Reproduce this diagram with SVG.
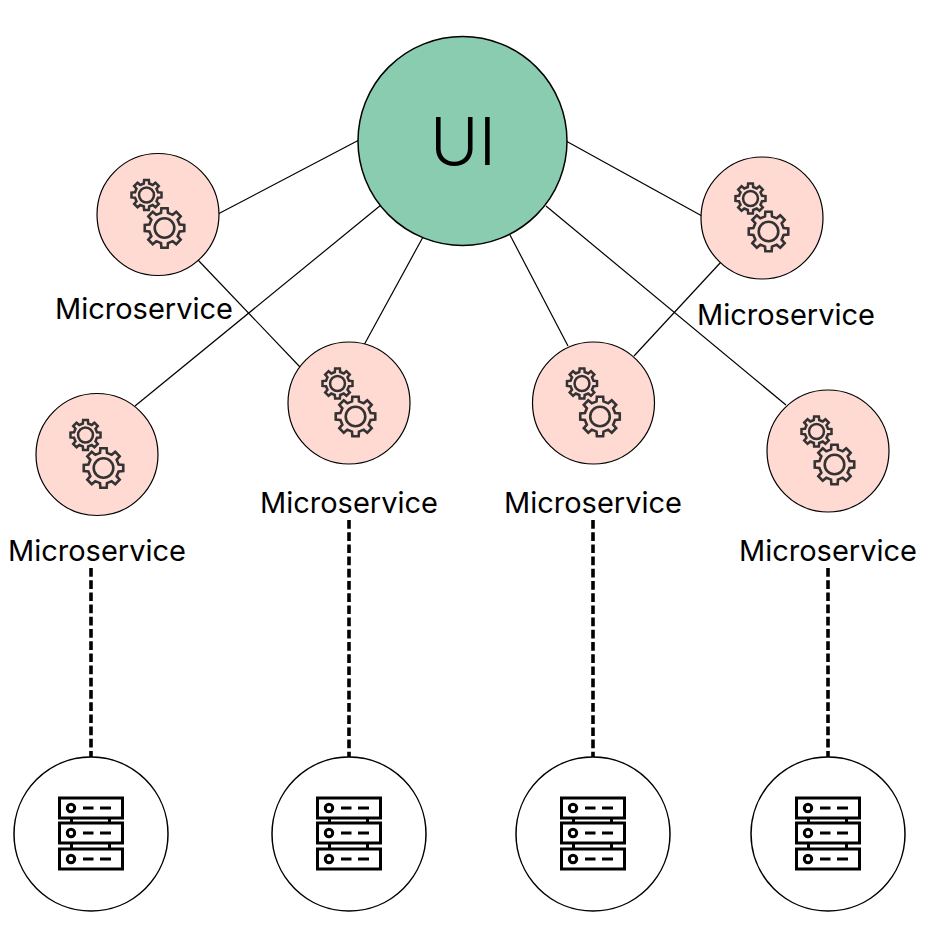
<svg xmlns="http://www.w3.org/2000/svg" width="933" height="952" viewBox="0 0 933 952">
<style>
.link{stroke:#000;stroke-width:1.2;fill:none}
.dash{stroke:#000;stroke-width:3.6;fill:none;stroke-dasharray:8.700 3.500}
.svc{fill:#ffdad2;stroke:#000;stroke-width:1.2}
.db{fill:#fff;stroke:#000;stroke-width:1.5}
.ui{fill:#8accb0;stroke:#000;stroke-width:1.5}
.g{fill:none;stroke:#333;stroke-linejoin:miter}
.big{stroke-width:2.6}
.small{stroke-width:3.3}
.srv{fill:none;stroke:#000;stroke-width:3}
text{font-family:Inter,"Noto Sans","Liberation Sans",sans-serif;fill:#000}
.lbl{font-size:29px;text-anchor:middle}
.t{font-size:66px;font-weight:300;text-anchor:middle}
</style>
<defs>
<g id="gear">
<path d="M-3.49-15.1L-3.13-19.75L3.13-19.75L3.49-15.1L8.21-13.14L11.76-16.18L16.18-11.76L13.14-8.21L15.1-3.49L19.75-3.13L19.75 3.13L15.1 3.49L13.14 8.21L16.18 11.76L11.76 16.18L8.21 13.14L3.49 15.1L3.13 19.75L-3.13 19.75L-3.49 15.1L-8.21 13.14L-11.76 16.18L-16.18 11.76L-13.14 8.21L-15.1 3.49L-19.75 3.13L-19.75-3.13L-15.1-3.49L-13.14-8.21L-16.18-11.76L-11.76-16.18L-8.21-13.14Z"/>
<circle r="9.8"/>
</g>
<g id="gears">
<use href="#gear" class="g small" transform="translate(-11.500 -19.500) scale(.76)"/>
<use href="#gear" class="g big" transform="translate(6.500 13.500)"/>
</g>
<g id="server" class="srv">
<rect x="-31.5" y="-36" width="63" height="20"/>
<rect x="-31.5" y="-11" width="63" height="20"/>
<rect x="-31.5" y="15" width="63" height="20"/>
<path d="M-19.5-16v5M18.5-16v5M-19.5 9v6M18.5 9v6"/>
<circle cx="-20" cy="-26" r="3.7"/>
<circle cx="-20" cy="-1" r="3.7"/>
<circle cx="-20" cy="25" r="3.7"/>
<path d="M-8-26H2.500M9-26H20M-8-1H2.500M9-1H20M-8 25H2.500M9 25H20"/>
</g>
</defs>
<g id="connectors">
<path class="link" d="M359 140L218 214"/>
<path class="link" d="M566 141L702 216"/>
<path class="link" d="M198 260L300 367"/>
<path class="link" d="M381 205L135 406"/>
<path class="link" d="M423 237L364 345"/>
<path class="link" d="M510 235L568 346"/>
<path class="link" d="M721 262L634 356"/>
<path class="link" d="M546 206L786 405"/>
<path class="dash" d="M91 568V757"/>
<path class="dash" d="M349 520V757"/>
<path class="dash" d="M593 520V757"/>
<path class="dash" d="M828 568V757"/>
</g>
<g id="ui"><circle class="ui" cx="462.500" cy="141" r="104.500"/><text class="t" x="463" y="164.500">UI</text></g>
<g id="svc-a"><circle class="svc" cx="158" cy="214.500" r="61"/><use href="#gears" transform="translate(158 214.500)"/><text class="lbl" x="144" y="319">Microservice</text></g>
<g id="svc-b"><circle class="svc" cx="97" cy="454.500" r="61"/><use href="#gears" transform="translate(97 454.500)"/><text class="lbl" x="97" y="561">Microservice</text></g>
<g id="svc-c"><circle class="svc" cx="349" cy="403" r="61"/><use href="#gears" transform="translate(349 403)"/><text class="lbl" x="349" y="513">Microservice</text></g>
<g id="svc-d"><circle class="svc" cx="593.500" cy="403" r="61"/><use href="#gears" transform="translate(593.500 403)"/><text class="lbl" x="593" y="513">Microservice</text></g>
<g id="svc-e"><circle class="svc" cx="828" cy="451" r="61"/><use href="#gears" transform="translate(828 451)"/><text class="lbl" x="828" y="561">Microservice</text></g>
<g id="svc-f"><circle class="svc" cx="762" cy="218" r="61"/><use href="#gears" transform="translate(762 218)"/><text class="lbl" x="786" y="325">Microservice</text></g>
<g id="db-a"><circle class="db" cx="91" cy="834" r="77"/><use href="#server" transform="translate(91 834)"/></g>
<g id="db-b"><circle class="db" cx="349" cy="834" r="77"/><use href="#server" transform="translate(349 834)"/></g>
<g id="db-c"><circle class="db" cx="593" cy="834" r="77"/><use href="#server" transform="translate(593 834)"/></g>
<g id="db-d"><circle class="db" cx="828" cy="834" r="77"/><use href="#server" transform="translate(828 834)"/></g>
</svg>
